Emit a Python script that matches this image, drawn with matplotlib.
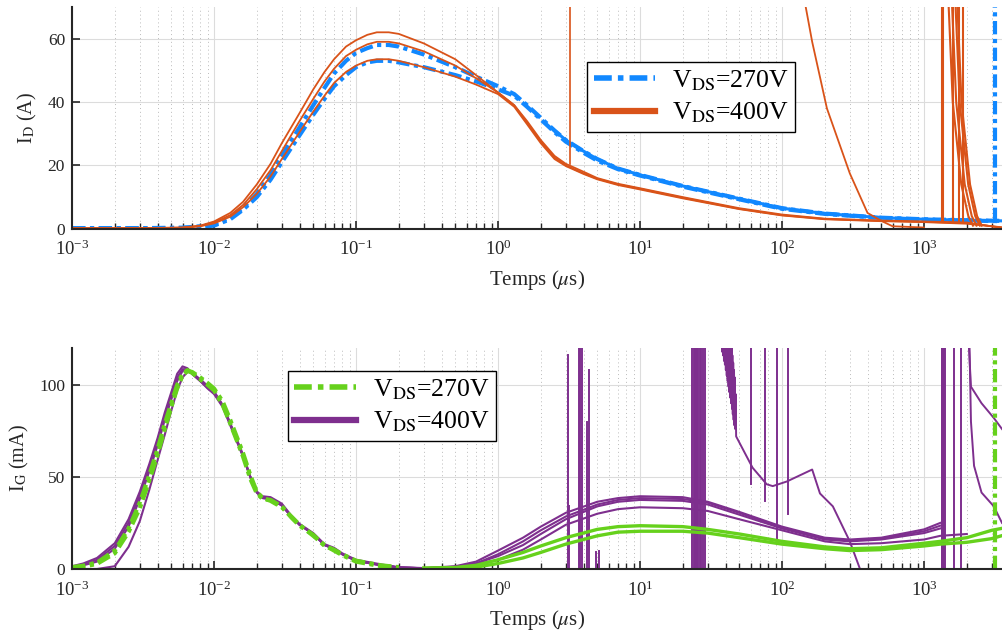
import numpy as np
import matplotlib.pyplot as plt
from matplotlib.lines import Line2D

plt.rcParams['font.family'] = ['Liberation Serif', 'DejaVu Serif']
plt.rcParams['mathtext.fontset'] = 'stix'

nan = np.nan

c_blue = '#1188ff'
c_orange = '#d95319'
c_green = '#66d11c'
c_purple = '#7e2f8e'

# ---------- courant de drain I_D (A) ----------
t_d = [1e-3, 3e-3, 6e-3, 8e-3, 1e-2, 1.3e-2, 1.6e-2, 2e-2, 2.5e-2, 3e-2,
       4e-2, 5e-2, 6e-2, 7e-2, 8.5e-2, 0.1, 0.12, 0.14, 0.17, 0.2,
       0.3, 0.5, 0.7, 1.0, 1.3, 1.6, 2, 2.5, 3, 4,
       5, 7, 10, 20, 50, 100, 200, 500, 1000, 2000,
       3500]

id_270_a = [0.2, 0.2, 0.3, 0.8, 1.5, 3.5, 6.5, 11, 17, 23,
            32, 39, 44.5, 49, 53, 55.5, 57, 58, 58, 57.5,
            55, 51, 48, 45, 42.5, 39, 35, 31, 28, 24.5,
            22, 19, 17, 13.5, 9.5, 6.5, 4.8, 3.5, 3, 2.7,
            2.5]
id_270_b = [0.2, 0.2, 0.3, 0.6, 1.0, 3.0, 6.0, 10, 15.5, 21,
            29.5, 36, 41, 45, 48.5, 51, 52.5, 53, 53, 52.5,
            51, 48.5, 46.5, 44, 42, 38.5, 34.5, 30.5, 27.5, 24,
            21.5, 18.8, 16.8, 13.3, 9.3, 6.3, 4.7, 3.4, 2.9, 2.6,
            2.4]

id_400_a = [0.2, 0.2, 0.4, 1.0, 2.3, 5, 8.5, 14, 20.5, 27,
            36.5, 44, 49.5, 53.5, 57.5, 59.5, 61.2, 62, 62, 61.5,
            58.5, 53.5, 48.5, 43, 39, 34, 28, 23, 20.5, 18,
            16, 14.2, 12.8, 10, 6.5, 4.5, 3.2, 2.6, 2.3, 2,
            0.3]
id_400_b = [0.2, 0.2, 0.35, 0.9, 2.0, 4.3, 7.5, 12.5, 18.5, 24.5,
            34, 41, 46.5, 50.5, 54.5, 56.5, 58.2, 59, 59, 58.5,
            56, 51.5, 47.5, 43, 39, 33.5, 27.5, 22.5, 20, 17.5,
            15.8, 14, 12.6, 9.8, 6.3, 4.3, 3.1, 2.5, 2.2, 1.8,
            0.4]
id_400_c = [0.2, 0.2, 0.3, 0.8, 1.7, 3.8, 6.8, 11, 16.5, 22,
            30.5, 37, 42, 46, 49.5, 51.5, 53, 53.5, 53.5, 53,
            51, 48, 45.5, 42.5, 38.5, 33, 27, 22, 19.8, 17.3,
            15.6, 13.8, 12.4, 9.6, 6.2, 4.2, 3.0, 2.4, 2.1, 1.6,
            0.5]

# pics parasites
id_270_spike_t = [3170, 3170]
id_270_spike_v = [2.5, 80]
id_400_spike_t = [3.2, 3.2]
id_400_spike_v = [20.3, 80]
id_400_decay_t = [140, 163, 207, 300, 400, 500, 600, 1000]
id_400_decay_v = [75, 59, 38, 17.5, 5, 2.5, 0.8, 0.4]
id_400_rise = [1340, 1350, 1600, 1765, 1880]
id_400_fall = [1475, 1560, 1650, 1700]
fall_dt = [1.0, 1.08, 1.24, 1.39, 1.5]
fall_v = [75, 40, 14, 4, 1]

# ---------- courant de grille I_G (mA) ----------
t_g = [1e-3, 1.2e-3, 1.5e-3, 2e-3, 2.5e-3, 3e-3, 3.5e-3, 4e-3, 4.5e-3, 5e-3,
       5.5e-3, 6e-3, 6.5e-3, 7e-3, 8e-3, 9e-3, 1e-2, 1.15e-2, 1.3e-2, 1.6e-2,
       1.8e-2, 2e-2, 2.2e-2, 2.5e-2, 3e-2, 3.5e-2, 4e-2, 5e-2, 6e-2, 7e-2,
       8e-2, 0.1, 0.15, 0.2, 0.3, 0.5, 0.7, 1, 1.5, 2,
       3, 5, 7, 10, 20, 30, 50, 100, 200, 300,
       500, 1000, 1300, 2000, 3000, 3500]

ig_270_a = [1, 1.8, 3.5, 10, 22, 36, 51, 65, 79, 90,
            100, 106, 108, 106.5, 103, 100, 97, 89, 79, 61,
            49, 41, 38, 37.5, 34, 28, 23.5, 18.5, 12.5, 10.5,
            8, 4.5, 2, 1, 0.5, 0.8, 2, 5, 9, 12.5,
            17, 21.5, 23, 23.5, 23, 21.5, 19, 15, 12, 11,
            11.5, 14, 15, 17, 21, 22]
ig_270_b = [0.5, 1.2, 2.8, 8.5, 20, 33, 48, 62, 76, 88,
            98, 105, 107.5, 107, 104, 101, 98, 91, 81, 63,
            51, 42, 38.5, 37, 33.5, 28.5, 24, 18, 13, 10,
            7.5, 4, 1.5, 0.8, 0.4, 0.5, 1, 3, 6, 9,
            13.5, 18, 20, 20.5, 20.5, 19.5, 17, 13.5, 11, 10,
            10.5, 12.5, 13.5, 14.5, 16.5, 18]

ig_400_a = [1.5, 3, 6, 14, 27, 42, 57, 71, 85, 96,
            106, 110, 109, 106, 102, 98, 95, 88, 78, 61,
            50, 42, 39.5, 39, 35.5, 29, 24.5, 19.5, 13.5, 11.5,
            8.5, 5, 2.5, 1, 0.5, 1.5, 4, 10, 17, 23,
            30.5, 36.5, 38.5, 39.5, 39, 36.5, 31, 23, 17, 16,
            17, 21.5, 25, nan, nan, nan]
ig_400_b = [1.2, 2.5, 5, 12.5, 25, 40, 55, 69, 83, 94,
            104, 108.5, 108.5, 106, 102.5, 99, 96, 89, 79, 62,
            50, 42, 39, 38.5, 35, 28.5, 24, 19, 13, 11,
            8, 4.5, 2, 0.8, 0.4, 1.2, 3, 7, 13, 19,
            27, 34, 36.5, 37.5, 37, 35, 29.5, 22, 16, 15,
            16, 19.5, 22, nan, nan, nan]
ig_400_c = [1, 2, 4, 11, 23, 38, 53, 67, 81, 92,
            102, 107.5, 108, 106, 102, 98.5, 95.5, 88.5, 78.5, 61.5,
            50, 41.5, 38.5, 38, 34.5, 28.5, 24, 19, 13, 11,
            8, 4.5, 2, 0.8, 0.4, 1, 2.5, 5, 10.5, 16,
            24, 30, 32.5, 33.5, 33, 31.5, 27, 21, 15, 13.5,
            14, 16, 18, 19, nan, nan]
ig_400_d = [0, 0, 0, 1.5, 12, 26, 43, 59, 73, 86,
            97, 104, 107, 106.5, 103, 99.5, 96.5, 89, 79, 61.5,
            50, 41.5, 38.5, 38, 34.5, 28.5, 24, 19, 13, 11,
            8, 4.5, 2, 0.8, 0.4, 1.2, 3, 8, 15, 21,
            28.5, 35, 37.5, 38.5, 38, 36, 30.5, 22.5, 16.5, 15.5,
            16.5, 20.5, 23.5, nan, nan, nan]

# pics verticaux (instant, bas, haut)
ig_spk_t = [3.1, 3.15, 3.7, 3.8, 3.9, 4.2, 4.4, 4.9, 5.1,
            23.2, 23.8, 24.3, 24.8, 25.3, 25.8, 26.3, 27.0, 27.8, 28.6,
            60, 75.6, 92, 110,
            1330, 1345, 1360, 1380, 1400, 1620, 1830]
ig_spk_lo = [0, 0, 0, 0, 0, 0, 0, 0, 0,
             0, 0, 0, 0, 0, 0, 0, 0, 0, 0,
             46, 37, 16, 30,
             0, 0, 0, 0, 0, 0, 0]
ig_spk_hi = [116, 34, 130, 130, 130, 80, 108, 9, 10,
             130, 130, 130, 130, 130, 130, 130, 130, 130, 130,
             130, 130, 130, 130,
             130, 130, 130, 130, 130, 130, 130]

# bloc oscillant puis decroissance (40-350 us)
ig_osc_t = [37.5, 37.8, 38.1, 38.4, 38.7, 39.0, 39.3, 39.6, 39.9, 40.2,
            40.5, 40.8, 41.1, 41.4, 41.7, 42.0, 42.3, 42.6, 42.9, 43.2,
            43.5, 43.8, 44.1, 44.4, 44.7, 45.0, 45.3, 45.6, 45.9, 46.2,
            46.5, 46.8, 47.1, 47.5,
            53, 62, 78, 86, 108, 163, 185, 228, 300, 354]
ig_osc_v = [130, 118, 130, 116, 130, 113, 130, 111, 130, 108,
            130, 105, 130, 102, 130, 99, 128, 96, 126, 93,
            124, 90, 120, 87, 116, 84, 112, 81, 108, 78,
            104, 76, 95, 72,
            65, 55, 46, 45, 47.5, 54, 41, 34, 15, 0]
ig_tail1_t = [2040, 2140, 2540, 3100, 3540]
ig_tail1_v = [130, 99, 90, 82, 76]
ig_tail2_t = [2080, 2140, 2250, 2540, 3100, 3540]
ig_tail2_v = [130, 80, 56, 41.5, 34, 25]
ig_270_spike_t = [3170, 3170]
ig_270_spike_v = [0, 130]

fig = plt.figure(figsize=(10.02, 6.32), dpi=100)
ax1 = fig.add_axes([0.0719, 0.638, 0.9281, 0.351])
ax2 = fig.add_axes([0.0719, 0.0997, 0.9281, 0.3497])

dash = (0, (3.2, 1.1, 1.0, 1.1))
dd = dict(linestyle=dash, lw=3.0)

# haut
td = np.array(t_d)
late_d = td >= 2.5
ax1.plot(t_d, id_270_a, color=c_blue, **dd)
ax1.plot(t_d, id_270_b, color=c_blue, **dd)
ax1.plot(td[late_d], np.array(id_270_a)[late_d], color=c_blue, lw=2.2)
ax1.plot(id_270_spike_t, id_270_spike_v, color=c_blue, **dd)
for v in (id_400_a, id_400_b, id_400_c):
    ax1.plot(t_d, v, color=c_orange, lw=1.3)
ax1.plot(id_400_spike_t, id_400_spike_v, color=c_orange, lw=1.2)
ax1.plot(id_400_decay_t, id_400_decay_v, color=c_orange, lw=1.3)
for tr in id_400_rise:
    ax1.plot([tr, tr], [2.3, 80], color=c_orange, lw=1.5)
for tf in id_400_fall:
    ax1.plot([tf * k for k in fall_dt], fall_v, color=c_orange, lw=1.5)

# bas
tg = np.array(t_g)
late_g = tg >= 0.3
for v in (ig_400_a, ig_400_b, ig_400_c, ig_400_d):
    ax2.plot(t_g, v, color=c_purple, lw=1.5)
for t, lo, hi in zip(ig_spk_t, ig_spk_lo, ig_spk_hi):
    ax2.plot([t, t], [lo, hi], color=c_purple, lw=1.4)
ax2.plot(ig_osc_t, ig_osc_v, color=c_purple, lw=1.4)
ax2.plot(ig_tail1_t, ig_tail1_v, color=c_purple, lw=1.4)
ax2.plot(ig_tail2_t, ig_tail2_v, color=c_purple, lw=1.4)
ax2.plot(tg[~late_g], np.array(ig_270_a)[~late_g], color=c_green, **dd)
ax2.plot(tg[~late_g], np.array(ig_270_b)[~late_g], color=c_green, **dd)
ax2.plot(tg[late_g], np.array(ig_270_a)[late_g], color=c_green, lw=2.4)
ax2.plot(tg[late_g], np.array(ig_270_b)[late_g], color=c_green, lw=2.4)
ax2.plot(ig_270_spike_t, ig_270_spike_v, color=c_green, **dd)

for ax, ymax, yt, lab in ((ax1, 70, [0, 20, 40, 60], r'I$_\mathrm{D}$ (A)'),
                          (ax2, 120, [0, 50, 100], r'I$_\mathrm{G}$ (mA)')):
    ax.set_xscale('log')
    ax.set_xlim(1e-3, 3540)
    ax.set_xticks([1e-3, 1e-2, 1e-1, 1, 10, 100, 1000])
    ax.set_ylim(0, ymax)
    ax.set_yticks(yt)
    ax.set_ylabel(lab, fontsize=14.5, color='#262626', labelpad=6)
    ax.set_xlabel(r'Temps ($\mu$s)', fontsize=15, color='#262626', labelpad=6)
    ax.grid(True, which='major', color='#dcdcdc', lw=0.8)
    ax.grid(True, which='minor', axis='x', color='#bbbbbb', lw=0.7, linestyle=(0, (1, 3)))
    ax.set_axisbelow(True)
    for s in ('top', 'right'):
        ax.spines[s].set_visible(False)
    for s in ('left', 'bottom'):
        ax.spines[s].set_linewidth(1.5)
        ax.spines[s].set_color('#262626')
    ax.tick_params(which='major', direction='in', length=6, width=1.2,
                   labelsize=12.5, colors='#262626', pad=7)
    ax.tick_params(which='minor', direction='in', length=4, width=1.0, colors='#262626')
    ax.tick_params(axis='x', labelsize=13.5, pad=8)
    ax.tick_params(axis='y', pad=5)

leg_kw = dict(fontsize=18.5, handlelength=2.4, handletextpad=0.65, borderpad=0.25,
              labelspacing=0.3, borderaxespad=0, fancybox=False, edgecolor='black',
              framealpha=1, loc='upper left')
labels = [r'V$_\mathrm{DS}$=270V', r'V$_\mathrm{DS}$=400V']
h1 = [Line2D([], [], color=c_blue, lw=4, linestyle=dash),
      Line2D([], [], color=c_orange, lw=4.5)]
h2 = [Line2D([], [], color=c_green, lw=4, linestyle=dash),
      Line2D([], [], color=c_purple, lw=4.5)]
l1 = ax1.legend(h1, labels, bbox_to_anchor=(0.554, 0.752), **leg_kw)
l2 = ax2.legend(h2, labels, bbox_to_anchor=(0.232, 0.896), **leg_kw)
for l in (l1, l2):
    l.get_frame().set_linewidth(1.0)

fig.savefig('out.png', dpi=100)
